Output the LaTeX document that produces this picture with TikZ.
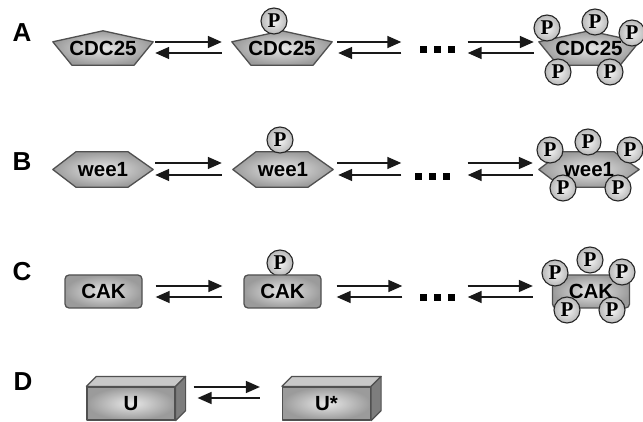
\documentclass[tikz,border=0pt]{standalone}
\usepackage{fontspec}
\setmainfont{Liberation Sans}
\newfontfamily\pfont{Liberation Serif}
\usetikzlibrary{arrows.meta,calc,backgrounds}
\definecolor{bordc}{RGB}{80,80,80}
\definecolor{fillout}{RGB}{155,155,155}
\definecolor{fillin}{RGB}{232,232,232}
\definecolor{topc}{RGB}{200,200,200}
\definecolor{sidec}{RGB}{125,125,125}
\newcommand\drawpent[1]{\path[shp] (#1.north) -- ($(#1.north east)!0.32!(#1.south east)$) -- ($(#1.south east)!0.19!(#1.south west)$) -- ($(#1.south west)!0.19!(#1.south east)$) -- ($(#1.north west)!0.32!(#1.south west)$) -- cycle;}
\newcommand\drawhex[1]{\path[shp] (#1.west) -- ($(#1.north west)!0.23!(#1.north east)$) -- ($(#1.north east)!0.25!(#1.north west)$) -- (#1.east) -- ($(#1.south east)!0.25!(#1.south west)$) -- ($(#1.south west)!0.23!(#1.south east)$) -- cycle;}
\newcommand\drawcube[1]{%
  \filldraw[fill=topc,draw=bordc,line width=1.2pt,line join=round] (#1.north west) -- ++(10,-10) -- ($(#1.north east)+(10,-10)$) -- (#1.north east) -- cycle;
  \filldraw[fill=sidec,draw=bordc,line width=1.2pt,line join=round] (#1.north east) -- ++(10,-10) -- ($(#1.south east)+(10,-10)$) -- (#1.south east) -- cycle;}
\begin{document}
\begin{tikzpicture}[x=1pt,y=-1pt,
  lbl/.style={font=\fontsize{26}{26}\selectfont\bfseries, inner sep=0pt},
  mol/.style={font=\fontsize{20.5}{20.5}\selectfont\bfseries, inner sep=0pt, minimum width=100pt, minimum height=34pt},
  shp/.style={draw=bordc, line width=1.3pt, line join=round, inner color=fillin, outer color=fillout},
  rbox/.style={mol, shp, rounded corners=4pt, minimum width=77pt, minimum height=33pt},
  cbox/.style={mol, shp, minimum width=88pt, minimum height=33pt, line width=1.2pt},
  phos/.style={circle, draw=black!85, line width=1.1pt, inner color=white!92!gray, outer color=gray!55, minimum size=26pt, inner sep=0pt, font=\pfont\bfseries\fontsize{21}{21}\selectfont},
  dotrow/.style={inner sep=0pt},
  rxn/.style={line width=1.5pt, draw=black!90, -{Triangle[length=14pt,width=12pt]}}]
\useasboundingbox (0,0) rectangle (643,422);
\newcommand\threedots{\rule{7pt}{7pt}\hspace{7pt}\rule{7pt}{7pt}\hspace{7pt}\rule{7pt}{7pt}}

% ---------- Row A
\node[lbl] (lA) at (22,33) {A};
\node[mol] (a1) at (103,48) {CDC25};
\node[mol] (a2) at (282,48) {CDC25};
\node[dotrow] (dA) at (437,50) {\threedots};
\node[mol] (a3) at (589,48) {CDC25};

% ---------- Row B
\node[lbl] (lB) at (22,162) {B};
\node[mol, minimum height=35pt] (b1) at (103,169.5) {wee1};
\node[mol, minimum height=35pt] (b2) at (283,169.5) {wee1};
\node[dotrow] (dB) at (432,177) {\threedots};
\node[mol, minimum height=35pt] (b3) at (589,169.5) {wee1};

% ---------- Row C
\node[lbl] (lC) at (22,272) {C};
\node[rbox] (c1) at (103.5,291.5) {CAK};
\node[rbox] (c2) at (282.5,291.5) {CAK};
\node[dotrow] (dC) at (437,298) {\threedots};

% ---------- Row D
\node[lbl] (lD) at (23,382) {D};
\node[cbox] (d1) at (131,403.5) {U};
\node[cbox] (d2) at (326.5,403.5) {U*};

\begin{pgfonlayer}{background}
  \drawpent{a1} \drawpent{a2} \drawpent{a3}
  \drawhex{b1} \drawhex{b2} \drawhex{b3}
  \node[rbox, text opacity=0] (c3) at (591,291.5) {CAK};
  \drawcube{d1} \drawcube{d2}
  \node[phos] (pa2) at (274,21) {P};
  \node[phos] (pa31) at (547,28) {P};
  \node[phos] (pa32) at (595,22) {P};
  \node[phos] (pa33) at (632,33) {P};
  \node[phos] (pa34) at (558,72) {P};
  \node[phos] (pa35) at (610,72) {P};
  \node[phos] (pb2) at (280,140) {P};
  \node[phos] (pb31) at (550,150) {P};
  \node[phos] (pb32) at (588,142) {P};
  \node[phos] (pb33) at (630,150) {P};
  \node[phos] (pb34) at (563,188) {P};
  \node[phos] (pb35) at (618,188) {P};
  \node[phos] (pc2) at (280,263) {P};
  \node[phos] (pc31) at (555,273) {P};
  \node[phos] (pc32) at (590,260) {P};
  \node[phos] (pc33) at (622,272) {P};
  \node[phos] (pc34) at (567,310) {P};
  \node[phos] (pc35) at (612,310) {P};
\end{pgfonlayer}
\node[mol] (c3t) at (c3) {CAK};

% ---------- Arrows row A
\draw[rxn, shorten <=2pt, shorten >=10pt] ([yshift=6pt]a1.east) -- ([yshift=6pt]a1.east -| a2.west);
\draw[rxn, shorten <=10pt, shorten >=2pt] ([yshift=-5pt]a1.east -| a2.west) -- ([yshift=-5pt]a1.east);
\draw[rxn, shorten <=5pt, shorten >=18pt] ([yshift=6pt]a2.east) -- ([yshift=6pt]a2.east -| dA.west);
\draw[rxn, shorten <=18pt, shorten >=6pt] ([yshift=-5pt]a2.east -| dA.west) -- ([yshift=-5pt]a2.east);
\draw[rxn, shorten <=13pt, shorten >=5pt] ([yshift=6pt]a3.west -| dA.east) -- ([yshift=6pt]a3.west);
\draw[rxn, shorten <=5pt, shorten >=13pt] ([yshift=-5pt]a3.west) -- ([yshift=-5pt]a3.west -| dA.east);

% ---------- Arrows row B
\draw[rxn, shorten <=2pt, shorten >=11pt] ([yshift=6.5pt]b1.east) -- ([yshift=6.5pt]b1.east -| b2.west);
\draw[rxn, shorten <=11pt, shorten >=2pt] ([yshift=-5.5pt]b1.east -| b2.west) -- ([yshift=-5.5pt]b1.east);
\draw[rxn, shorten <=4pt, shorten >=13pt] ([yshift=6.5pt]b2.east) -- ([yshift=6.5pt]b2.east -| dB.west);
\draw[rxn, shorten <=13pt, shorten >=5pt] ([yshift=-5.5pt]b2.east -| dB.west) -- ([yshift=-5.5pt]b2.east);
\draw[rxn, shorten <=18pt, shorten >=6pt] ([yshift=6.5pt]b3.west -| dB.east) -- ([yshift=6.5pt]b3.west);
\draw[rxn, shorten <=6pt, shorten >=18pt] ([yshift=-5.5pt]b3.west) -- ([yshift=-5.5pt]b3.west -| dB.east);

% ---------- Arrows row C
\draw[rxn, shorten <=13pt, shorten >=21pt] ([yshift=5.5pt]c1.east) -- ([yshift=5.5pt]c1.east -| c2.west);
\draw[rxn, shorten <=21pt, shorten >=13pt] ([yshift=-5.5pt]c1.east -| c2.west) -- ([yshift=-5.5pt]c1.east);
\draw[rxn, shorten <=15pt, shorten >=17pt] ([yshift=5.5pt]c2.east) -- ([yshift=5.5pt]c2.east -| dC.west);
\draw[rxn, shorten <=17pt, shorten >=15pt] ([yshift=-5.5pt]c2.east -| dC.west) -- ([yshift=-5.5pt]c2.east);
\draw[rxn, shorten <=13pt, shorten >=19pt] ([yshift=5.5pt]c3.west -| dC.east) -- ([yshift=5.5pt]c3.west);
\draw[rxn, shorten <=19pt, shorten >=13pt] ([yshift=-5.5pt]c3.west) -- ([yshift=-5.5pt]c3.west -| dC.east);

% ---------- Arrows row D
\draw[rxn, shorten <=18pt, shorten >=22pt] ([yshift=16.5pt]d1.east) -- ([yshift=16.5pt]d1.east -| d2.west);
\draw[rxn, shorten <=22pt, shorten >=22pt] ([yshift=5.5pt]d1.east -| d2.west) -- ([yshift=5.5pt]d1.east);
\end{tikzpicture}
\end{document}
